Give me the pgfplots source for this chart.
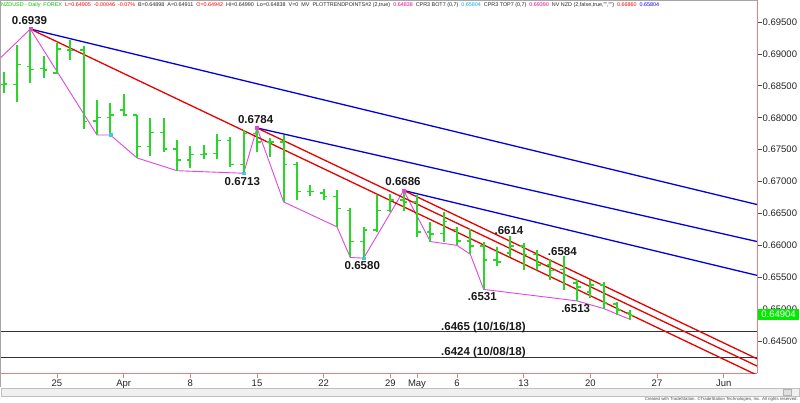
\documentclass[border=0pt]{standalone}
\usepackage{fontspec}
\setmainfont{Liberation Sans}
\usepackage{pgfplots}
\usepackage{pgfplotstable}
\pgfplotsset{compat=1.18}

\definecolor{barg}{RGB}{40,215,40}
\definecolor{tlblue}{RGB}{0,0,225}
\definecolor{tlred}{RGB}{230,0,0}
\definecolor{swing}{RGB}{225,70,225}
\definecolor{axpink}{RGB}{225,130,130}
\definecolor{hgreen}{RGB}{0,190,0}
\definecolor{lastg}{RGB}{0,235,0}
\definecolor{swcyan}{RGB}{60,200,230}

% open tick to the left, close tick to the right
\pgfdeclareplotmark{otick}{\pgfpathmoveto{\pgfqpoint{-3.8pt}{0pt}}\pgfpathlineto{\pgfqpoint{0pt}{0pt}}\pgfusepathqstroke}
\pgfdeclareplotmark{ctick}{\pgfpathmoveto{\pgfqpoint{0pt}{0pt}}\pgfpathlineto{\pgfqpoint{3.8pt}{0pt}}\pgfusepathqstroke}

% daily bars, i = trading days from Mon 25 Mar
\pgfplotstableread{
i O H L C
-4 0.6852 0.6871 0.6838 0.6853
-3 0.6852 0.6914 0.6824 0.6883
-2 0.6880 0.6939 0.6854 0.6876
-1 0.6877 0.6897 0.6863 0.6875
0 0.6870 0.6917 0.6868 0.6908
1 0.6906 0.6922 0.6890 0.6905
2 0.6906 0.6913 0.6783 0.6794
3 0.6795 0.6828 0.6773 0.6800
4 0.6800 0.6823 0.6773 0.6804
5 0.6812 0.6837 0.6802 0.6804
6 0.6804 0.6805 0.6737 0.6755
7 0.6755 0.6800 0.6740 0.6777
8 0.6777 0.6799 0.6746 0.6751
9 0.6751 0.6765 0.6717 0.6734
10 0.6734 0.6755 0.6721 0.6742
11 0.6742 0.6757 0.6735 0.6743
12 0.6744 0.6775 0.6736 0.6764
13 0.6764 0.6770 0.6723 0.6727
14 0.6727 0.6781 0.6713 0.6775
15 0.6775 0.6784 0.6747 0.6762
16 0.6762 0.6769 0.6739 0.6762
17 0.6762 0.6773 0.6668 0.6727
18 0.6727 0.6731 0.6671 0.6684
19 0.6684 0.6695 0.6677 0.6684
20 0.6682 0.6689 0.6671 0.6677
21 0.6677 0.6687 0.6629 0.6658
22 0.6655 0.6658 0.6581 0.6606
23 0.6606 0.6629 0.6580 0.6624
24 0.6624 0.6679 0.6621 0.6655
25 0.6655 0.6681 0.6653 0.6671
26 0.6671 0.6686 0.6654 0.6668
27 0.6668 0.6679 0.6613 0.6621
28 0.6621 0.6637 0.6606 0.6618
29 0.6619 0.6653 0.6606 0.6637
30 0.6625 0.6629 0.6600 0.6607
31 0.6607 0.6625 0.6586 0.6599
32 0.6599 0.6606 0.6531 0.6577
33 0.6577 0.6598 0.6568 0.6574
34 0.6588 0.6614 0.6581 0.6599
35 0.6599 0.6604 0.6561 0.6586
36 0.6586 0.6593 0.6561 0.6569
37 0.6569 0.6578 0.6546 0.6561
38 0.6562 0.6584 0.6530 0.6553
39 0.6541 0.6546 0.6513 0.6535
40 0.6527 0.6545 0.6517 0.6538
41 0.6538 0.6543 0.6501 0.6510
42 0.6508 0.6512 0.6491 0.6499
43 0.64942 0.6499 0.64838 0.64905
}\ohlc

\begin{document}
\begin{tikzpicture}
\path[use as bounding box] (0pt,-29pt) rectangle (800pt,373pt);
\fill[white] (0pt,-29pt) rectangle (800pt,373pt);

\begin{axis}[
  at={(0pt,0pt)}, anchor=south west,
  scale only axis, width=757pt, height=373pt,
  xmin=-4.275, xmax=52.5, ymin=0.64, ymax=0.69845,
  axis x line*=bottom, axis y line*=right,
  axis line style={axpink, line width=0.9pt, -},
  xtick={0,5,10,15,20,25,27,30,35,40,45,50},
  xticklabels={25,Apr,8,15,22,29,May,6,13,20,27,Jun},
  ytick={0.645,0.65,0.655,0.66,0.665,0.67,0.675,0.68,0.685,0.69,0.695},
  yticklabels={0.64500,0.65000,0.65500,0.66000,0.66500,0.67000,0.67500,0.68000,0.68500,0.69000,0.69500},
  tick align=outside, major tick length=4.5pt,
  x tick style={axpink, line width=0.7pt},
  y tick style={black!70, line width=0.7pt},
  ticklabel style={font=\fontsize{9.5}{10}\selectfont, text=black!85},
  yticklabel style={inner sep=1pt},
  xticklabel style={inner sep=2.5pt},
  clip=true,
]

% swing line
\addplot[swing, line width=0.9pt] coordinates {
 (-4.275,0.6893) (-2,0.6939) (3,0.6773) (4,0.6773) (6,0.6737) (9,0.6717)
 (14,0.6713) (15,0.6784) (17,0.6668) (21,0.6629) (22,0.6581) (23,0.6580)
 (26,0.6686) (28,0.6606) (30,0.6600) (31,0.6586) (32,0.6531) (39,0.6513)
 (41,0.6501) (43,0.64838)};

% old lows
\addplot[black!80, line width=1.4pt] coordinates {(-4.275,0.6465) (52.5,0.6465)};
\addplot[black!80, line width=1.4pt] coordinates {(-4.275,0.6424) (52.5,0.6424)};

% blue trend lines
\addplot[tlblue, line width=1.3pt] coordinates {(-2,0.6939) (52.5,0.6664)};
\addplot[tlblue, line width=1.3pt] coordinates {(15,0.6784) (52.5,0.6606)};
\addplot[tlblue, line width=1.3pt] coordinates {(26,0.6686) (52.5,0.6553)};

% red trend lines
\addplot[tlred, line width=1.3pt] coordinates {(-2,0.6939) (52.5,0.63967)};
\addplot[tlred, line width=1.3pt] coordinates {(15,0.6784) (52.5,0.64109)};
\addplot[tlred, line width=1.3pt] coordinates {(26,0.6686) (52.5,0.64223)};

% bars: high-low
\addplot[draw=none, mark=none,
  error bars/.cd, y dir=minus, y explicit, error mark=none,
  error bar style={draw=barg, line width=2pt}]
  table[x=i, y=H, y error minus expr=\thisrow{H}-\thisrow{L}] {\ohlc};
\addplot[only marks, mark=otick, barg, line width=1.4pt] table[x=i, y=O] {\ohlc};
\addplot[only marks, mark=ctick, barg, line width=1.4pt] table[x=i, y=C] {\ohlc};

% swing points
\addplot[only marks, mark=square*, mark size=1.4pt, swcyan] coordinates {(4,0.6773) (14,0.6713) (23,0.6580)};
\addplot[only marks, mark=square*, mark size=1.4pt, swing] coordinates {(-2,0.6939) (15,0.6784) (26,0.6686)};

% labels
\begin{scope}[every node/.style={font=\fontsize{11.5}{12}\selectfont\bfseries, text=black!90, inner sep=0pt}]
\node at (axis cs:-2.06,0.69530) {0.6939};
\node at (axis cs:14.9,0.6797) {0.6784};
\node at (axis cs:13.9,0.6700) {0.6713};
\node at (axis cs:25.95,0.6700) {0.6686};
\node at (axis cs:22.9,0.65687) {0.6580};
\node at (axis cs:33.9,0.6624) {.6614};
\node at (axis cs:37.9,0.65911) {.6584};
\node at (axis cs:31.9,0.65205) {.6531};
\node at (axis cs:38.9,0.65010) {.6513};
\node[anchor=west] at (axis cs:28.8,0.64719) {.6465 (10/16/18)};
\node[anchor=west] at (axis cs:28.8,0.64328) {.6424 (10/08/18)};
\end{scope}
\end{axis}

% frame
\draw[black!35, line width=0.8pt] (0.4pt,-14pt) -- (0.4pt,372.6pt) -- (757pt,372.6pt);

% header
\node[anchor=west, inner sep=0pt, font=\fontsize{5.4}{6}\selectfont, text=black!85] at (1pt,367.5pt)
{{\color{hgreen}NZDUSD - Daily\ \ FOREX}\ \ {\color{red}L=0.64905\ \ -0.00046\ \ -0.07\%}\ \ B=0.64898\ \ A=0.64911\ \ {\color{red}O=0.64942}\ \ Hi=0.64990\ \ Lo=0.64838\ \ V=0\ \ MV\ \ PLOTTRENDPOINTS\#2 (2,true)\ \ {\color{magenta}0.64838}\ \ CPR3 BOT7 (0,7)\ \ {\color{cyan}0.65804}\ \ CPR3 TOP7 (0,7)\ \ {\color{magenta}0.69390}\ \ NV NZD (2,false,true,"","")\ \ {\color{red}0.66860}\ \ {\color{blue}0.65804}};

% last price box
\fill[lastg] (757.5pt,53pt) rectangle (799pt,64pt);
\node[text=white, font=\fontsize{9.5}{10}\selectfont, inner sep=0pt] at (778.5pt,58.5pt) {0.64904};

% scroll bar and credit
\fill[black!6] (1pt,-23pt) rectangle (799pt,-15pt);
\draw[black!25, line width=0.5pt] (1pt,-23pt) rectangle (799pt,-15pt);
\draw[black!30, line width=0.5pt, fill=black!12] (783pt,-22pt) rectangle (791pt,-16pt);
\node[anchor=east, inner sep=0pt, font=\fontsize{4.3}{5}\selectfont, text=black!70] at (798pt,-26.5pt)
{Created with TradeStation. \textcopyright TradeStation Technologies, Inc. All rights reserved.};
\end{tikzpicture}
\end{document}
